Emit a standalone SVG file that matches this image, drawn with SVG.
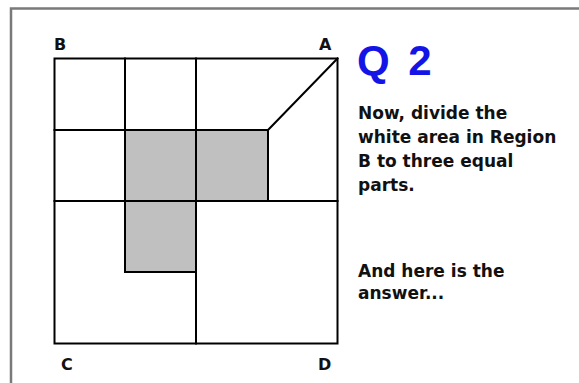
<svg xmlns="http://www.w3.org/2000/svg" width="579" height="383" viewBox="0 0 579 383">
<style>
.ln{stroke:#000;stroke-width:2;fill:none;stroke-linecap:square}
.sh{fill:#c0c0c0;stroke:none}
.lbl{font-family:"DejaVu Sans",sans-serif;font-weight:bold;font-size:16px;fill:#111}
.body{font-family:"DejaVu Sans",sans-serif;font-weight:bold;font-size:17px;fill:#111}
.title{font-family:"Liberation Sans",Arial,sans-serif;font-weight:bold;font-size:42px;fill:#1414e6;word-spacing:7px}
</style>
<rect x="0" y="0" width="579" height="383" fill="#fff"/>
<rect x="11" y="8.5" width="600" height="400" fill="none" stroke="#7a7a7a" stroke-width="2.5"/>
<g id="shading">
<rect class="sh" x="125" y="130" width="143" height="71"/>
<rect class="sh" x="125" y="201" width="71" height="71"/>
</g>
<g id="connectors">
<rect class="ln" x="54.5" y="58.5" width="283" height="285"/>
<line class="ln" x1="125" y1="58.5" x2="125" y2="272"/>
<line class="ln" x1="196" y1="58.5" x2="196" y2="343.5"/>
<line class="ln" x1="54.5" y1="130" x2="268" y2="130"/>
<line class="ln" x1="54.5" y1="201" x2="337.5" y2="201"/>
<line class="ln" x1="268" y1="130" x2="268" y2="201"/>
<line class="ln" x1="268" y1="130" x2="337.5" y2="58.5"/>
<line class="ln" x1="125" y1="272" x2="196" y2="272"/>
</g>
<g id="corner-labels">
<text class="lbl" x="54" y="50">B</text>
<text class="lbl" x="319" y="50">A</text>
<text class="lbl" x="61" y="370">C</text>
<text class="lbl" x="318" y="370">D</text>
</g>
<g id="title"><text class="title" x="357" y="75">Q 2</text></g>
<g id="question">
<text class="body" x="358" y="118.5">Now, divide the</text>
<text class="body" x="358" y="143">white area in Region</text>
<text class="body" x="358" y="167">B to three equal</text>
<text class="body" x="358" y="191">parts.</text>
</g>
<g id="answer">
<text class="body" x="358" y="277">And here is the</text>
<text class="body" x="358" y="299">answer...</text>
</g>
</svg>
